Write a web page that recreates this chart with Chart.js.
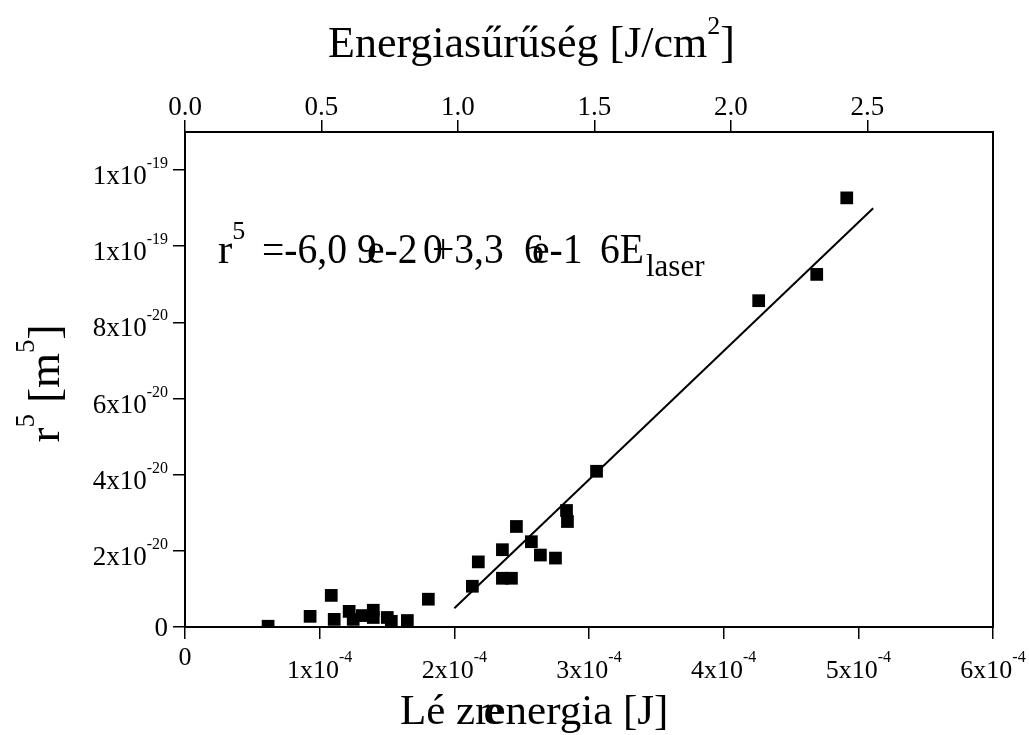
<!DOCTYPE html>
<html>
<head>
<meta charset="utf-8">
<script src="https://cdn.jsdelivr.net/npm/chart.js@4.4.1/dist/chart.umd.min.js"></script>
<style>
html,body{margin:0;padding:0;background:#fff;}
#wrap{width:1029px;height:735px;}
</style>
</head>
<body>
<div id="wrap"><canvas id="mychart" width="1029" height="735"></canvas></div>
<script>
// laser energy [J] and r^5 [m^5]
var energy = [0.617e-4, 0.929e-4, 1.086e-4, 1.108e-4, 1.219e-4, 1.249e-4, 1.316e-4, 1.398e-4,
              1.398e-4, 1.502e-4, 1.532e-4, 1.651e-4, 1.807e-4, 2.134e-4, 2.178e-4, 2.357e-4,
              2.424e-4, 2.357e-4, 2.461e-4, 2.572e-4, 2.639e-4, 2.751e-4, 2.833e-4, 2.840e-4,
              3.056e-4, 4.260e-4, 4.691e-4, 4.914e-4]
var r5 = [0.02e-20, 0.28e-20, 0.83e-20, 0.20e-20, 0.41e-20, 0.20e-20, 0.30e-20, 0.44e-20,
          0.25e-20, 0.25e-20, 0.15e-20, 0.17e-20, 0.73e-20, 1.07e-20, 1.71e-20, 1.28e-20,
          1.28e-20, 2.03e-20, 2.64e-20, 2.24e-20, 1.89e-20, 1.81e-20, 3.06e-20, 2.77e-20,
          4.09e-20, 8.57e-20, 9.26e-20, 11.27e-20]

// ends of the fitted line
var fitE = [2.0e-4, 5.11e-4]
var fitR5 = [0.49e-20, 11.0e-20]

// ticks
var xTicks = [0, 1e-4, 2e-4, 3e-4, 4e-4, 5e-4, 6e-4]
var xTickBase = ['0', '1x10', '2x10', '3x10', '4x10', '5x10', '6x10']
var xTickExp = ['', '-4', '-4', '-4', '-4', '-4', '-4']
var yTicks = [0, 2e-20, 4e-20, 6e-20, 8e-20, 1e-19, 1.2e-19]
var yTickBase = ['0', '2x10', '4x10', '6x10', '8x10', '1x10', '1x10']
var yTickExp = ['', '-20', '-20', '-20', '-20', '-19', '-19']
var topTicks = [0, 0.5, 1, 1.5, 2, 2.5]
var topTickLabels = ['0.0', '0.5', '1.0', '1.5', '2.0', '2.5']

var FONT = "'Liberation Serif', 'Times New Roman', serif"
var plotLeft = 185, plotRight = 993, plotTop = 132, plotBottom = 627

function f(size){ return size + 'px ' + FONT }

// text with superscript, anchored by align ('left','center','right')
function supText(ctx, base, exp, x, y, align, bs, es, rise){
    ctx.font = f(bs)
    var w1 = ctx.measureText(base).width
    ctx.font = f(es)
    var w2 = exp ? ctx.measureText(exp).width : 0
    var w = w1 + w2
    var x0 = align == 'center' ? x - w / 2 : (align == 'right' ? x - w : x)
    ctx.textAlign = 'left'
    ctx.textBaseline = 'alphabetic'
    ctx.font = f(bs)
    ctx.fillText(base, x0, y)
    if (exp) {
        ctx.font = f(es)
        ctx.fillText(exp, x0 + w1, y - rise)
    }
    return x0 + w
}

// slightly narrowed text, used for the fit equation
function narrow(ctx, s, x, y, size, sx){
    ctx.save()
    ctx.translate(x, y)
    ctx.scale(sx, 1)
    ctx.font = f(size)
    ctx.textAlign = 'left'
    ctx.fillText(s, 0, 0)
    ctx.restore()
}

var labelsPlugin = {
    id: 'labels',
    afterDraw: function(chart){
        var ctx = chart.ctx
        var sx = chart.scales.x, sy = chart.scales.y, st = chart.scales.xTop
        ctx.save()
        ctx.fillStyle = '#000'

        // bottom tick labels
        for (var i = 0; i < xTicks.length; i++) {
            var px = sx.getPixelForValue(xTicks[i])
            if (xTickExp[i]) supText(ctx, xTickBase[i], xTickExp[i], px, 678, 'center', 26, 16, 16)
            else supText(ctx, xTickBase[i], '', px, 665, 'center', 26, 16, 0)
        }
        // left tick labels
        for (var j = 0; j < yTicks.length; j++) {
            var py = sy.getPixelForValue(yTicks[j])
            if (yTickExp[j]) supText(ctx, yTickBase[j], yTickExp[j], 168, py + 14, 'right', 27, 16, 16)
            else supText(ctx, yTickBase[j], '', 168, py + 9, 'right', 27, 16, 0)
        }
        // top tick labels
        ctx.font = f(27)
        ctx.textAlign = 'center'
        for (var k = 0; k < topTicks.length; k++) {
            ctx.fillText(topTickLabels[k], st.getPixelForValue(topTicks[k]), 115)
        }

        // top title
        ctx.font = f(44)
        var t1 = 'Energiasűrűség [J/cm'
        var tw = ctx.measureText(t1).width + ctx.measureText(']').width + 14
        var xe = supText(ctx, t1, '2', 532 - tw / 2, 57, 'left', 44, 26, 23)
        ctx.font = f(44)
        ctx.fillText(']', xe, 57)

        // bottom title (glyphs overlap as in the original)
        ctx.font = f(43)
        var bx = 400, by = 724
        ctx.fillText('Lé zr', bx, by)
        var bw = ctx.measureText('Lé zr').width
        ctx.fillText('e', bx + bw - 6, by)
        ctx.fillText('energia [J]', bx + bw - 3, by)

        // y title, rotated
        ctx.save()
        ctx.translate(59, 383)
        ctx.rotate(-Math.PI / 2)
        ctx.font = f(45)
        var yw = ctx.measureText('r').width + ctx.measureText(' [m').width + ctx.measureText(']').width + 28
        var yx = supText(ctx, 'r', '5', -yw / 2, 0, 'left', 45, 27, 25)
        yx = supText(ctx, ' [m', '5', yx, 0, 'left', 45, 27, 25)
        ctx.font = f(45)
        ctx.fillText(']', yx, 0)
        ctx.restore()

        // fit equation
        var eb = 263
        supText(ctx, 'r', '5', 218, eb, 'left', 43, 26, 24)
        var eq = [['=-6,0', 262], ['9', 357], ['e-2', 367], ['0', 423], ['+3,3', 432],
                  ['6', 524], ['e-1', 532], ['6E', 600]]
        for (var m = 0; m < eq.length; m++) narrow(ctx, eq[m][0], eq[m][1], eb, 43, 0.92)
        ctx.font = f(31)
        ctx.fillText('laser', 646, eb + 13)

        ctx.restore()
    }
}

var ctx = document.getElementById('mychart').getContext('2d')

var pts = []
for (var i = 0; i < energy.length; i++) pts.push({x: energy[i], y: r5[i]})
var fit = []
for (var i = 0; i < fitE.length; i++) fit.push({x: fitE[i], y: fitR5[i]})

function axisStyle(extra){
    var o = {
        display: true,
        ticks: {display: false},
        grid: {drawOnChartArea: false, drawTicks: true, tickLength: 12, color: '#000', lineWidth: 1.5},
        border: {display: true, color: '#000', width: 2}
    }
    for (var k in extra) o[k] = extra[k]
    return o
}

var chart = new Chart(ctx, {
    type: 'scatter',
    data: {
        datasets: [
            {
                label: 'r5',
                data: pts,
                pointStyle: 'rect',
                pointRadius: 9,
                pointHoverRadius: 9,
                backgroundColor: '#000',
                borderWidth: 0,
                clip: 0,
                xAxisID: 'x',
                yAxisID: 'y'
            },
            {
                label: 'fit',
                data: fit,
                showLine: true,
                pointRadius: 0,
                borderColor: '#000',
                borderWidth: 2,
                fill: false,
                xAxisID: 'x',
                yAxisID: 'y'
            }
        ]
    },
    options: {
        responsive: false,
        devicePixelRatio: 1,
        animation: false,
        events: [],
        layout: {padding: 0},
        plugins: {legend: {display: false}, tooltip: {enabled: false}},
        scales: {
            x: axisStyle({
                type: 'linear', position: 'bottom', min: 0, max: 6e-4,
                afterBuildTicks: function(s){ s.ticks = xTicks.map(function(v){ return {value: v} }) },
                afterFit: function(s){ s.height = 735 - plotBottom }
            }),
            xTop: axisStyle({
                type: 'linear', position: 'top', min: 0, max: 2.96,
                afterBuildTicks: function(s){ s.ticks = topTicks.map(function(v){ return {value: v} }) },
                afterFit: function(s){ s.height = plotTop }
            }),
            y: axisStyle({
                type: 'linear', position: 'left', min: 0, max: 1.3e-19,
                afterBuildTicks: function(s){ s.ticks = yTicks.map(function(v){ return {value: v} }) },
                afterFit: function(s){ s.width = plotLeft }
            }),
            yRight: {
                type: 'linear', position: 'right', display: true, min: 0, max: 1,
                ticks: {display: false},
                grid: {drawOnChartArea: false, drawTicks: false},
                border: {display: true, color: '#000', width: 2},
                afterFit: function(s){ s.width = 1029 - plotRight }
            }
        }
    },
    plugins: [labelsPlugin]
})
</script>
</body>
</html>
